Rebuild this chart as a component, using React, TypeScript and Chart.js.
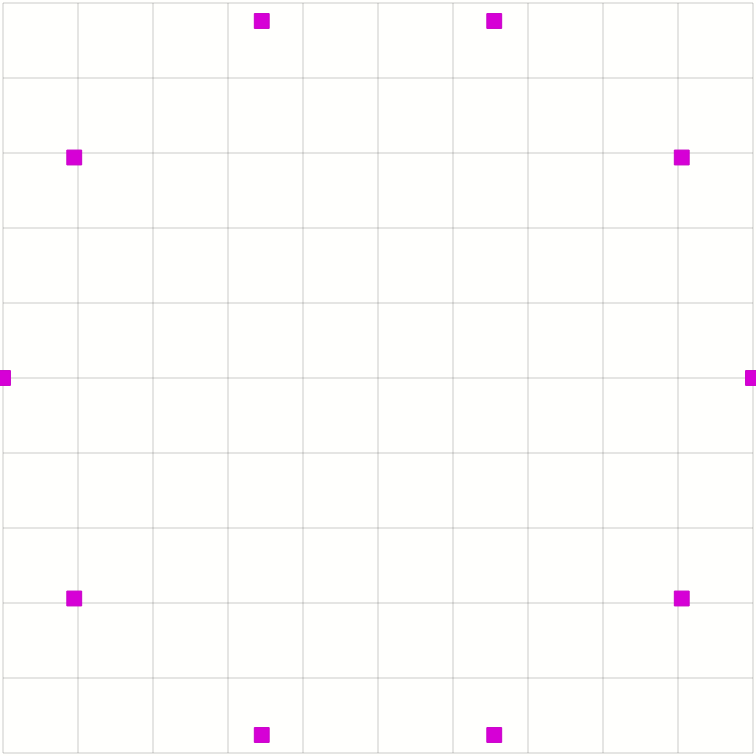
import { useEffect, useRef } from "react"
import { Chart, registerables } from "chart.js"

Chart.register(...registerables)

// ten markers, grid units
const xValues = [5, 4.05, 1.55, -1.55, -4.05, -5, -4.05, -1.55, 1.55, 4.05]
const yValues = [0, 2.94, 4.76, 4.76, 2.94, 0, -2.94, -4.76, -4.76, -2.94]

const axisMin = -5
const axisMax = 5

export default function App() {
  const chartRef = useRef<HTMLCanvasElement>(null)
  const chartInstance = useRef<Chart | null>(null)

  useEffect(() => {
    if (!chartRef.current) return
    if (chartInstance.current) chartInstance.current.destroy()

    const points = xValues.map((x, i) => ({ x, y: yValues[i] }))

    const gridOpts = {
      color: "rgba(0, 0, 0, 0.1)",
      lineWidth: 2,
      drawTicks: false,
    }

    chartInstance.current = new Chart(chartRef.current, {
      type: "scatter",
      data: {
        datasets: [
          {
            data: points,
            pointStyle: "rect",
            pointRadius: 10.5,
            backgroundColor: "#d600d6",
            borderColor: "#c800c8",
            borderWidth: 1,
            clip: false,
          },
        ],
      },
      options: {
        animation: false,
        responsive: false,
        layout: { padding: 3, autoPadding: false },
        scales: {
          x: {
            type: "linear",
            min: axisMin,
            max: axisMax,
            ticks: { display: false, stepSize: 1 },
            grid: gridOpts,
            border: { display: false },
          },
          y: {
            type: "linear",
            min: axisMin,
            max: axisMax,
            ticks: { display: false, stepSize: 1 },
            grid: gridOpts,
            border: { display: false },
          },
        },
        plugins: {
          legend: { display: false },
          tooltip: { enabled: false },
        },
      },
    })

    return () => {
      if (chartInstance.current) {
        chartInstance.current.destroy()
        chartInstance.current = null
      }
    }
  }, [])

  return (
    <div
      style={{
        position: "fixed",
        left: 0,
        top: 0,
        width: 756,
        height: 756,
        background: "#fffffd",
      }}
    >
      <canvas ref={chartRef} width={756} height={756} style={{ display: "block" }} />
    </div>
  )
}
